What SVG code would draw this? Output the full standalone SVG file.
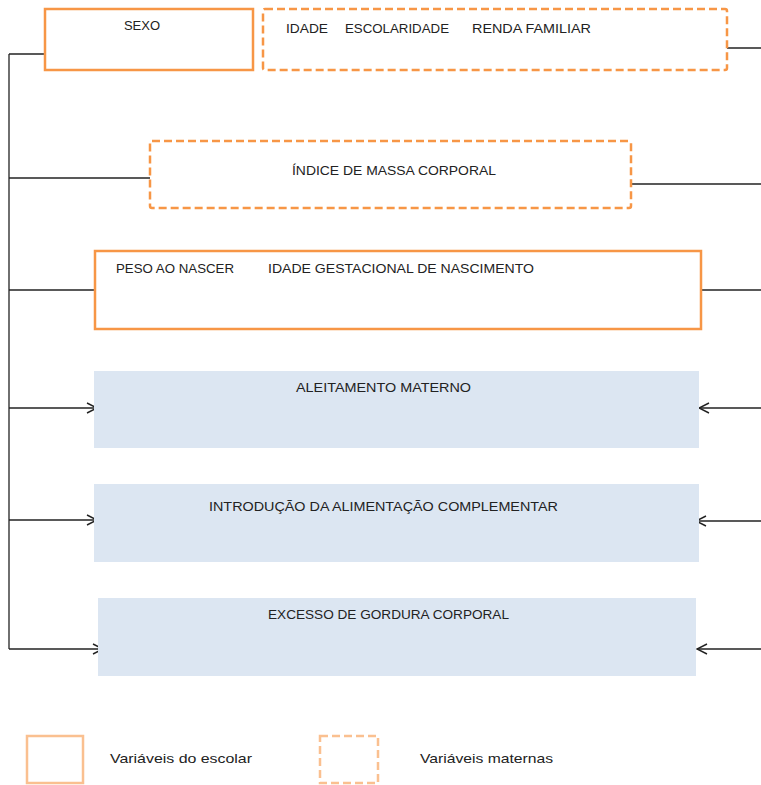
<svg xmlns="http://www.w3.org/2000/svg" width="761" height="785" viewBox="0 0 761 785">
<style>
.t{font-family:"Liberation Sans",Arial,sans-serif;font-size:13px;fill:#222}
.solid{fill:#fff;stroke:#F79646;stroke-width:2.5}
.dash{fill:#fff;stroke:#F79646;stroke-width:2.5;stroke-dasharray:8 4}
.blue{fill:#DCE6F2}
.ln{stroke:#222;stroke-width:1.3;fill:none}
.lgs{fill:#fff;stroke:#FAC090;stroke-width:2.5}
.lgd{fill:#fff;stroke:#FAC090;stroke-width:2.5;stroke-dasharray:8 4}
</style>
<defs>
<marker id="ah" viewBox="0 0 12 12" refX="11" refY="6" markerWidth="12" markerHeight="12" markerUnits="userSpaceOnUse" orient="auto">
<path d="M1,1 L11,6 L1,11" fill="none" stroke="#222" stroke-width="1.4"/>
</marker>
</defs>
<rect width="761" height="785" fill="#fff"/>
<g id="connectors">
<path class="ln" d="M9,54 V649"/>
<path class="ln" d="M9,54 H45"/>
<path class="ln" d="M9,178 H150"/>
<path class="ln" d="M9,290 H95"/>
<path class="ln" d="M9,408 H97" marker-end="url(#ah)"/>
<path class="ln" d="M9,520 H97" marker-end="url(#ah)"/>
<path class="ln" d="M9,649 H103" marker-end="url(#ah)"/>
<path class="ln" d="M727,48 H761"/>
<path class="ln" d="M631,184 H761"/>
<path class="ln" d="M701,290 H761"/>
<path class="ln" d="M761,408 H699" marker-end="url(#ah)"/>
<path class="ln" d="M761,521 H696" marker-end="url(#ah)"/>
<path class="ln" d="M761,649 H697" marker-end="url(#ah)"/>
</g>
<g id="sexo">
<rect class="solid" x="45" y="9" width="208" height="61"/>
<text class="t" x="142" y="30" text-anchor="middle">SEXO</text>
</g>
<g id="idade-escolaridade-renda">
<rect class="dash" x="263" y="9" width="464" height="61" rx="2"/>
<text class="t" x="286" y="33" textLength="42" lengthAdjust="spacingAndGlyphs">IDADE</text>
<text class="t" x="345" y="33" textLength="104" lengthAdjust="spacingAndGlyphs">ESCOLARIDADE</text>
<text class="t" x="472" y="33" textLength="119" lengthAdjust="spacingAndGlyphs">RENDA FAMILIAR</text>
</g>
<g id="imc">
<rect class="dash" x="150" y="141" width="481" height="67" rx="2"/>
<text class="t" x="292" y="175" textLength="204" lengthAdjust="spacingAndGlyphs">ÍNDICE DE MASSA  CORPORAL</text>
</g>
<g id="peso-idade-gestacional">
<rect class="solid" x="95" y="251" width="606" height="78"/>
<text class="t" x="116" y="273" textLength="118" lengthAdjust="spacingAndGlyphs">PESO  AO NASCER</text>
<text class="t" x="268" y="273" textLength="266" lengthAdjust="spacingAndGlyphs">IDADE  GESTACIONAL  DE NASCIMENTO</text>
</g>
<g id="aleitamento">
<rect class="blue" x="94" y="371" width="605" height="77"/>
<text class="t" x="296" y="392" textLength="175" lengthAdjust="spacingAndGlyphs">ALEITAMENTO  MATERNO</text>
</g>
<g id="introducao">
<rect class="blue" x="94" y="484" width="605" height="78"/>
<text class="t" x="209" y="511" textLength="349" lengthAdjust="spacingAndGlyphs">INTRODUÇÃO  DA ALIMENTAÇÃO  COMPLEMENTAR</text>
</g>
<g id="excesso">
<rect class="blue" x="98" y="598" width="598" height="78"/>
<text class="t" x="268" y="619" textLength="241" lengthAdjust="spacingAndGlyphs">EXCESSO  DE GORDURA  CORPORAL</text>
</g>
<g id="legend-escolar">
<rect class="lgs" x="27" y="736" width="56" height="47"/>
<text class="t" x="110" y="763" textLength="142" lengthAdjust="spacingAndGlyphs">Variáveis do escolar</text>
</g>
<g id="legend-maternas">
<rect class="lgd" x="320" y="736" width="58" height="47"/>
<text class="t" x="420" y="763" textLength="133" lengthAdjust="spacingAndGlyphs">Variáveis maternas</text>
</g>
</svg>
